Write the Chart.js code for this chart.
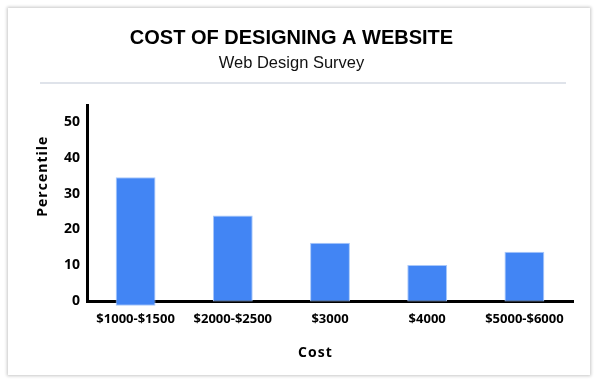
<!DOCTYPE html>
<html>
<head>
<meta charset="utf-8">
<script src="https://cdn.jsdelivr.net/npm/chart.js@4/dist/chart.umd.min.js"></script>
<style>
  html, body { margin: 0; padding: 0; background: #ffffff; }
  #wrap { position: relative; width: 601px; height: 384px; overflow: hidden; }
  #card { position: absolute; left: 8px; top: 8px; width: 582px; height: 367px; background: #fff;
          box-shadow: 0 0 3px 1px rgba(0,0,0,0.22); }
  #sep { position: absolute; left: 40px; top: 82px; width: 526px; height: 2px; background: #dfe3ea; }
  canvas { position: absolute; left: 0; top: 0; }
</style>
</head>
<body>
<div id="wrap">
  <div id="card"></div>
  <div id="sep"></div>
  <canvas id="c" width="601" height="384"></canvas>
</div>
<script>
const titleText = 'COST OF DESIGNING A WEBSITE';
const subtitleText = 'Web Design Survey';
const xTitle = 'Cost';
const yTitle = 'Percentile';
const categories = ['$1000-$1500', '$2000-$2500', '$3000', '$4000', '$5000-$6000'];
const values = [34.5, 23.9, 16.3, 10.1, 13.8];
const bases = [-1.2, 0, 0, 0, 0];
const yTicks = [0, 10, 20, 30, 40, 50];

const axisTitles = {
  id: 'axisTitles',
  afterDraw(chart) {
    const ctx = chart.ctx, a = chart.chartArea;
    ctx.save();
    ctx.fillStyle = '#000';
    ctx.font = 'bold 14px "Open Sans"';
    if ('letterSpacing' in ctx) ctx.letterSpacing = '1px';
    ctx.textAlign = 'center';
    ctx.textBaseline = 'middle';
    ctx.fillText(xTitle, a.left + (a.right - a.left) * 0.47, 353);
    ctx.translate(43, a.top + (a.bottom - a.top) * 0.36);
    ctx.rotate(-Math.PI / 2);
    ctx.fillText(yTitle, 0, 0);
    ctx.restore();
  }
};

new Chart(document.getElementById('c'), {
  type: 'bar',
  data: {
    labels: categories,
    datasets: [{
      data: values.map((v, i) => [bases[i], v]),
      backgroundColor: '#4285f4',
      borderColor: '#a9c8fa',
      borderWidth: 1,
      borderSkipped: false,
      barPercentage: 0.41,
      categoryPercentage: 1,
      clip: false
    }]
  },
  options: {
    responsive: false,
    animation: false,
    devicePixelRatio: 1,
    layout: { padding: { left: 10, right: 28, top: 0, bottom: 55 } },
    plugins: {
      legend: { display: false },
      tooltip: { enabled: false },
      title: {
        display: true, text: titleText, color: '#000',
        font: { family: '"Liberation Sans", Arial', size: 20, weight: 'bold', lineHeight: 1.2 },
        padding: { top: 26, bottom: 0 }
      },
      subtitle: {
        display: true, text: subtitleText, color: '#111',
        font: { family: '"Liberation Sans", Arial', size: 16.5, weight: 'normal', lineHeight: 1.2 },
        padding: { top: 4, bottom: 32 }
      }
    },
    scales: {
      x: {
        z: 1,
        grid: { display: false },
        border: { display: true, color: '#000', width: 3 },
        ticks: { color: '#000', padding: 2, maxRotation: 0, autoSkip: false,
                 font: { family: '"Open Sans"', size: 13, weight: 'bold' } }
      },
      y: {
        min: 0, max: 54.4,
        afterFit(s) { s.width = 77; },
        afterBuildTicks(s) { s.ticks = yTicks.map(v => ({ value: v })); },
        grid: { display: false, drawTicks: false },
        border: { display: true, color: '#000', width: 3 },
        ticks: { color: '#000', padding: 7,
                 font: { family: '"Open Sans"', size: 14, weight: 'bold' } }
      }
    }
  },
  plugins: [axisTitles]
});
</script>
</body>
</html>
